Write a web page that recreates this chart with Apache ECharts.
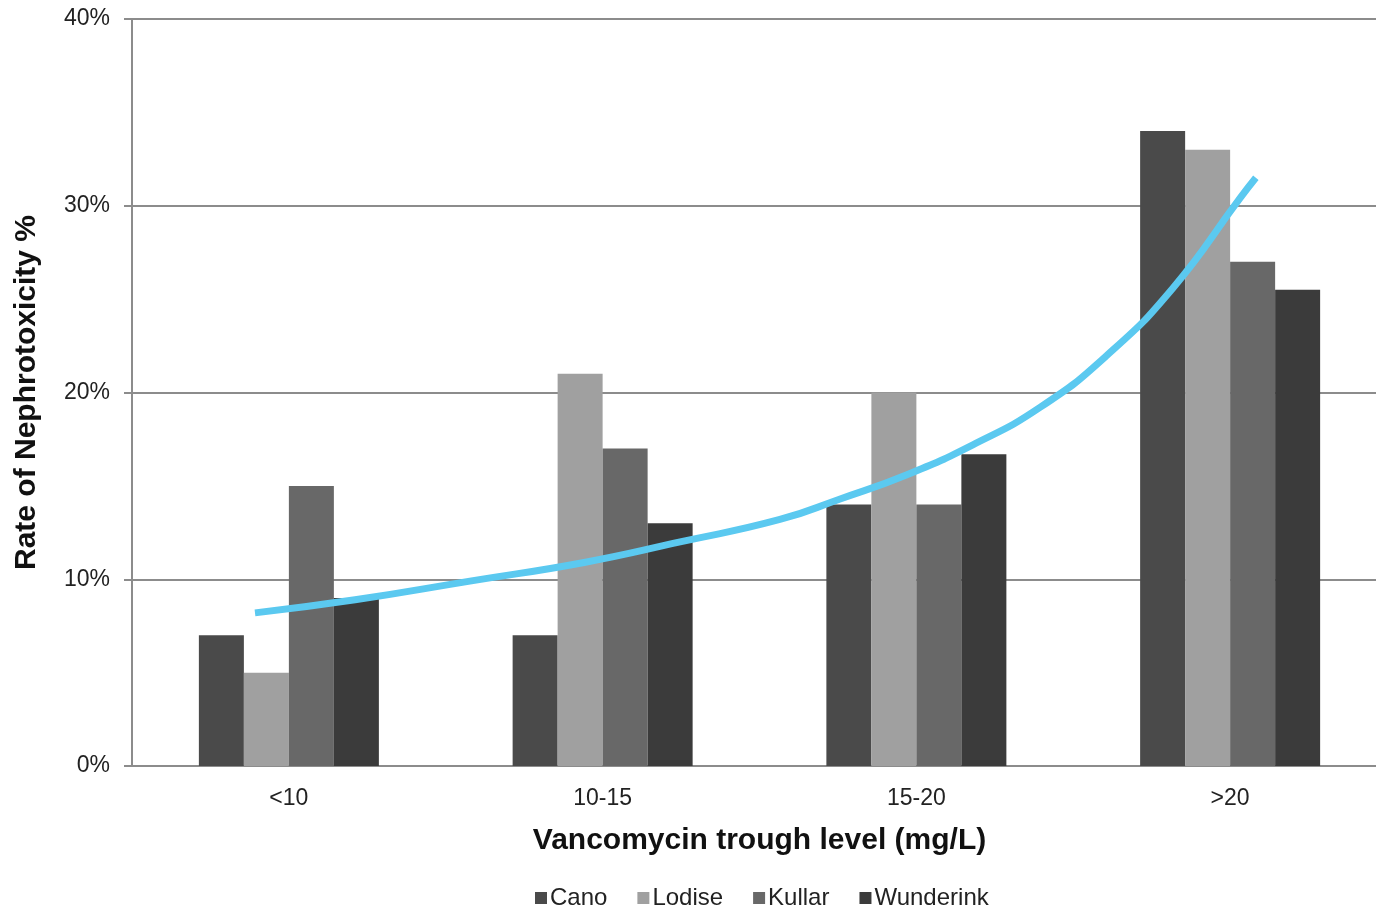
<!DOCTYPE html>
<html>
<head>
<meta charset="utf-8">
<script src="https://cdn.jsdelivr.net/npm/echarts@6/dist/echarts.min.js"></script>
<style>
html,body{margin:0;padding:0;background:#fff;}
#chart{width:1376px;height:906px;}
</style>
</head>
<body>
<div id="chart"></div>
<script>
var categories = ['<10', '10-15', '15-20', '>20'];
var cano = [7, 7, 14, 34];
var lodise = [5, 21, 20, 33];
var kullar = [15, 17, 14, 27];
var wunderink = [9, 13, 16.7, 25.5];
// trend curve: [position along category axis (0..4), percent]
var trendX = [0.392, 0.711, 1.077, 1.441, 1.747, 2.065, 2.257, 2.470, 2.680, 2.894, 3.108, 3.318, 3.531, 3.582];
var trendY = [8.2, 8.9, 9.9, 10.9, 12.0, 13.2, 14.3, 15.6, 17.2, 19.2, 22.0, 25.6, 30.4, 31.5];
var yTicks = [0, 10, 20, 30, 40];

var trendData = trendX.map(function (x, i) { return [x, trendY[i]]; });
var font = 'Liberation Sans, Arial, sans-serif';
var gridGray = '#8c8c8c';

var chart = echarts.init(document.getElementById('chart'));
chart.setOption({
  animation: false,
  backgroundColor: '#fff',
  textStyle: { fontFamily: font },
  grid: { left: 132, width: 1255, top: 19, height: 747, outerBoundsMode: 'none', containLabel: false },
  legend: {
    data: ['Cano', 'Lodise', 'Kullar', 'Wunderink'],
    left: 530,
    top: 881,
    icon: 'rect',
    itemWidth: 12,
    itemHeight: 12,
    itemGap: 30,
    textStyle: { fontFamily: font, fontSize: 24, color: '#222', padding: [0, 0, 0, -2] }
  },
  xAxis: [
    {
      type: 'category',
      data: categories,
      name: 'Vancomycin trough level (mg/L)',
      nameLocation: 'middle',
      nameGap: 60,
      nameTextStyle: { fontFamily: font, fontSize: 30, fontWeight: 'bold', color: '#111' },
      axisLine: { show: true, lineStyle: { color: gridGray, width: 2 } },
      axisTick: { show: false },
      axisLabel: { fontFamily: font, fontSize: 23, color: '#222', margin: 21 },
      splitLine: { show: false }
    },
    {
      type: 'value',
      min: 0,
      max: 4,
      show: false
    }
  ],
  yAxis: {
    type: 'value',
    min: 0,
    max: 40,
    interval: 10,
    name: 'Rate of Nephrotoxicity %',
    nameLocation: 'middle',
    nameGap: 90,
    nameTextStyle: { fontFamily: font, fontSize: 30, fontWeight: 'bold', color: '#111' },
    axisLine: { show: true, lineStyle: { color: gridGray, width: 2 } },
    axisTick: { show: true, length: 8, lineStyle: { color: gridGray, width: 2 } },
    axisLabel: {
      fontFamily: font, fontSize: 23, color: '#222', margin: 22, padding: [4, 0, 0, 0],
      formatter: function (v) { return yTicks.indexOf(v) >= 0 ? v + '%' : ''; }
    },
    splitLine: { show: true, lineStyle: { color: gridGray, width: 2 } }
  },
  series: [
    { name: 'Cano', type: 'bar', data: cano, barWidth: 45, barGap: '0%', itemStyle: { color: '#4a4a4a' } },
    { name: 'Lodise', type: 'bar', data: lodise, barWidth: 45, barGap: '0%', itemStyle: { color: '#a0a0a0' } },
    { name: 'Kullar', type: 'bar', data: kullar, barWidth: 45, barGap: '0%', itemStyle: { color: '#686868' } },
    { name: 'Wunderink', type: 'bar', data: wunderink, barWidth: 45, barGap: '0%', itemStyle: { color: '#3b3b3b' } },
    {
      name: 'trend', type: 'line', xAxisIndex: 1, data: trendData,
      smooth: 0.5, showSymbol: false, symbol: 'none', z: 5,
      lineStyle: { color: '#5bc9f0', width: 7, cap: 'butt' }
    }
  ]
});
</script>
</body>
</html>
